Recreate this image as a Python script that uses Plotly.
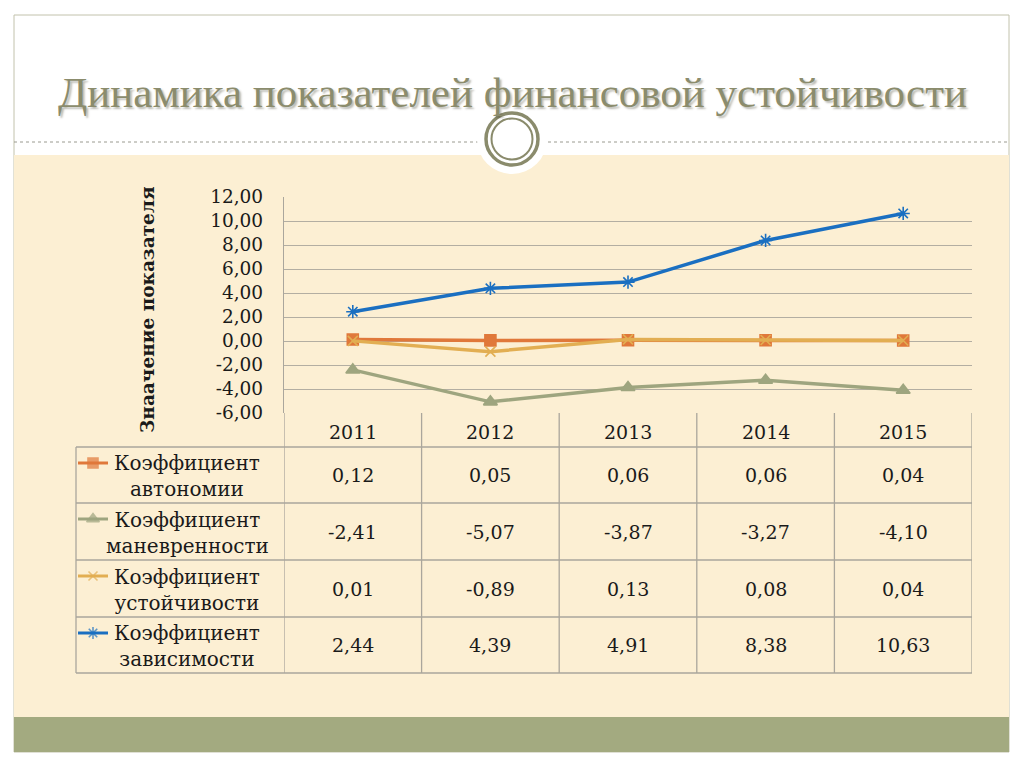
import plotly.graph_objects as go

# ---------------- data ----------------
years = ["2011", "2012", "2013", "2014", "2015"]
series_names = ["Коэффициент<br>автономии", "Коэффициент<br>маневренности",
                "Коэффициент<br>устойчивости", "Коэффициент<br>зависимости"]
k_avtonomii = [0.12, 0.05, 0.06, 0.06, 0.04]
k_manevrennosti = [-2.41, -5.07, -3.87, -3.27, -4.10]
k_ustoychivosti = [0.01, -0.89, 0.13, 0.08, 0.04]
k_zavisimosti = [2.44, 4.39, 4.91, 8.38, 10.63]
y_ticks = [-6, -4, -2, 0, 2, 4, 6, 8, 10, 12]
title_text = "Динамика показателей финансовой устойчивости"
y_title = "Знаачение показателя"

series = [k_avtonomii, k_manevrennosti, k_ustoychivosti, k_zavisimosti]
colors = ["#e0783a", "#9ea57f", "#e2ae52", "#1a6fc1"]
symbols = ["square", "triangle-up", "x-thin-open", "asterisk-open"]
msizes = [11, 12, 10, 11]

W, H = 1024, 767
def px(x): return x / W
def py(y): return 1 - y / H

def fmt(v):
    return f"{v:.2f}".replace(".", ",")

SERIF = "DejaVu Serif"
GRID = "#b3aea2"
TBL = "#aaa69c"
TXT = "#1a1a1a"

# plot box (pixels)
PL, PR, PT, PB = 284, 972, 197, 413
rows = [447, 503, 560, 617, 673]
TL = 76

fig = go.Figure()

for i, (vals, c, s, ms) in enumerate(zip(series, colors, symbols, msizes)):
    fig.add_trace(go.Scatter(
        x=years, y=vals, mode="lines+markers",
        line=dict(color=c, width=3.5),
        marker=dict(symbol=s, size=ms, color=c, line=dict(color=c, width=1.6)),
        name=series_names[i].replace("<br>", " "), showlegend=False,
        xaxis="x", yaxis="y"))

# legend keys in table (pixel overlay axes)
for i, (c, s, ms) in enumerate(zip(colors, symbols, msizes)):
    yk = rows[i] + 16
    fig.add_trace(go.Scatter(
        x=[78, 93, 108], y=[yk, yk, yk], mode="lines+markers",
        line=dict(color=c, width=3),
        marker=dict(symbol=s, size=[0, ms - 1, 0], color=c, line=dict(color=c, width=1.6)),
        showlegend=False, hoverinfo="skip", xaxis="x2", yaxis="y2"))

shapes = []
# slide frame and backgrounds
shapes.append(dict(type="rect", xref="paper", yref="paper", x0=px(14), x1=px(1009), y0=py(15), y1=py(752),
                   fillcolor="white", line=dict(color="#c2c2ac", width=1), layer="below"))
shapes.append(dict(type="rect", xref="paper", yref="paper", x0=px(14), x1=px(1009), y0=py(155), y1=py(717),
                   fillcolor="#fcefd3", line=dict(width=0), layer="below"))
shapes.append(dict(type="rect", xref="paper", yref="paper", x0=px(14), x1=px(1009), y0=py(717), y1=py(752),
                   fillcolor="#a3aa80", line=dict(width=0), layer="below"))
shapes.append(dict(type="line", xref="paper", yref="paper", x0=px(14), x1=px(1009), y0=py(142), y1=py(142),
                   line=dict(color="#9a9a90", width=1, dash="dot"), layer="below"))
# ornament circle
cx, cy = 512, 139
for r, fill, lw in [(35, "white", 0), (26, "white", 3.5), (20.5, "rgba(0,0,0,0)", 2)]:
    shapes.append(dict(type="circle", xref="paper", yref="paper",
                       x0=px(cx - r), x1=px(cx + r), y0=py(cy + r), y1=py(cy - r),
                       fillcolor=fill, line=dict(color="#8a8b6c", width=lw) if lw else dict(width=0),
                       layer="below"))
# table horizontal lines
for j, yy in enumerate(rows):
    shapes.append(dict(type="line", xref="paper", yref="paper", x0=px(TL), x1=px(PR), y0=py(yy), y1=py(yy),
                       line=dict(color=TBL, width=1.3)))
# table vertical lines at category boundaries
for k in range(len(years) + 1):
    shapes.append(dict(type="line", xref="x", yref="paper", x0=k - 0.5, x1=k - 0.5, y0=py(PB), y1=py(rows[-1]),
                       line=dict(color=TBL, width=1.3)))
shapes.append(dict(type="line", xref="paper", yref="paper", x0=px(TL), x1=px(TL), y0=py(rows[0]), y1=py(rows[-1]),
                   line=dict(color=TBL, width=1.3)))

C = dict(xanchor="center", yanchor="middle", showarrow=False)
annotations = []
# title (with soft shadow)
annotations.append(dict(text=title_text, xref="paper", yref="paper", x=px(512), y=py(93), **C,
                        font=dict(family="Liberation Serif", size=43, color="#8b8c6d",
                                  shadow="2px 2px 2px rgba(60,60,40,0.35)")))
# y title
annotations.append(dict(text="<b>" + y_title + "</b>", xref="paper", yref="paper", x=px(147), y=py(310),
                        textangle=-90, **C, font=dict(family=SERIF, size=18.5, color=TXT)))
# year header
for k, yr in enumerate(years):
    annotations.append(dict(text=yr, xref="x", yref="paper", x=k, y=py(432), **C,
                            font=dict(family=SERIF, size=19, color=TXT)))
# rows
for i, vals in enumerate(series):
    yc = (rows[i] + rows[i + 1]) / 2
    annotations.append(dict(text=series_names[i], xref="paper", yref="paper", x=px(187), y=py(yc + 1),
                            align="center", **C, font=dict(family=SERIF, size=20, color=TXT)))
    for k, v in enumerate(vals):
        annotations.append(dict(text=fmt(v), xref="x", yref="paper", x=k, y=py(yc), **C,
                                font=dict(family=SERIF, size=19, color=TXT)))

fig.update_layout(
    width=W, height=H, margin=dict(l=0, r=0, t=0, b=0, pad=0, autoexpand=False),
    paper_bgcolor="white", plot_bgcolor="rgba(0,0,0,0)",
    shapes=shapes, annotations=annotations, showlegend=False,
    xaxis=dict(domain=[px(PL), px(PR)], type="category", range=[-0.5, len(years) - 0.5], automargin=False,
               showticklabels=False, showgrid=False, zeroline=False, showline=False, fixedrange=True),
    yaxis=dict(domain=[py(PB), py(PT)], range=[-6, 12], tickvals=y_ticks, automargin=False,
               ticktext=[fmt(t) for t in y_ticks],
               showgrid=True, gridcolor=GRID, gridwidth=1.3, zeroline=False,
               showline=True, linecolor=TBL, linewidth=1.3,
               ticks="outside", ticklen=16, tickcolor="rgba(0,0,0,0)",
               tickfont=dict(family=SERIF, size=18.5, color=TXT), fixedrange=True),
    xaxis2=dict(domain=[0, 1], range=[0, W], visible=False, fixedrange=True, anchor="y2", automargin=False),
    yaxis2=dict(domain=[0, 1], range=[H, 0], visible=False, anchor="x2", fixedrange=True, automargin=False),
)

fig.write_html("out.html", config={"displayModeBar": False},
               post_script="document.body.style.margin='0px';document.body.style.padding='0px';")
